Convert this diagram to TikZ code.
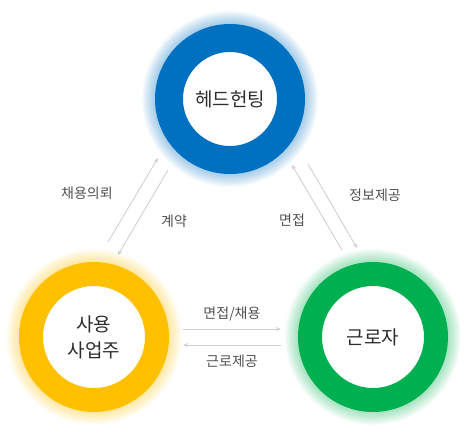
\documentclass[tikz,border=0pt]{standalone}
\usepackage{fontspec}
\setmainfont{Noto Sans CJK KR}
\usetikzlibrary{arrows.meta}
\definecolor{huntblue}{RGB}{0,112,192}
\definecolor{ownergold}{RGB}{255,192,0}
\definecolor{workgreen}{RGB}{0,176,80}
\definecolor{textdark}{RGB}{45,45,45}
\definecolor{labelgray}{RGB}{80,80,80}
\definecolor{arrowgray}{RGB}{205,205,205}

\begin{document}
\begin{tikzpicture}[x=1pt, y=-1pt,
  ring/.style={circle, fill=white, draw=#1, text=textdark,
    font=\fontsize{19}{26}\selectfont, align=center, inner sep=0pt},
  tag/.style={text=labelgray, font=\fontsize{14}{17}\selectfont, inner sep=0pt},
  flow/.style={-{Stealth[length=5pt, width=4pt]}, arrowgray, line width=0.8pt}]
  \useasboundingbox (0,0) rectangle (475,434);
  % soft halo round each ring
  \foreach \cx/\cy/\col in {230/99/huntblue, 94/337/ownergold, 373/337/workgreen}
    \foreach \i in {1,...,14}
      \fill[\col, opacity=0.03] (\cx,\cy) circle ({74+\i});
  % rings
  \node[ring=huntblue, line width=28pt, minimum size=122pt] (hunt) at (230,99) {헤드헌팅};
  \node[ring=ownergold, line width=24pt, minimum size=126pt] (owner) at (94,337) {사용\\사업주};
  \node[ring=workgreen, line width=24pt, minimum size=126pt] (worker) at (373,337) {근로자};
  % arrow ends
  \coordinate (ownerUp) at (108,242);  \coordinate (huntDownL) at (158,158);
  \coordinate (huntL) at (168,170);    \coordinate (ownerIn) at (118,255);
  \coordinate (workerUp) at (342,250); \coordinate (huntDownR) at (292,165);
  \coordinate (huntR) at (308,164);    \coordinate (workerIn) at (357,248);
  \coordinate (ownerR) at (183,329);   \coordinate (workerL) at (281,329);
  \coordinate (workerL2) at (281,345); \coordinate (ownerR2) at (183,345);
  % owner <-> hunt
  \draw[flow] (ownerUp) -- (huntDownL);
  \draw[flow] (huntL) -- (ownerIn);
  \node[tag] (askhire) at (87,193) {채용의뢰};
  \node[tag] (contract) at (174,221) {계약};
  % worker <-> hunt
  \draw[flow] (workerUp) -- (huntDownR);
  \draw[flow] (huntR) -- (workerIn);
  \node[tag] (interviewR) at (292,220) {면접};
  \node[tag] (inform) at (375,195) {정보제공};
  % owner <-> worker
  \draw[flow] (ownerR) -- (workerL);
  \draw[flow] (workerL2) -- (ownerR2);
  \node[tag] (hire) at (232,314) {면접/채용};
  \node[tag] (labour) at (232,361) {근로제공};
\end{tikzpicture}
\end{document}
